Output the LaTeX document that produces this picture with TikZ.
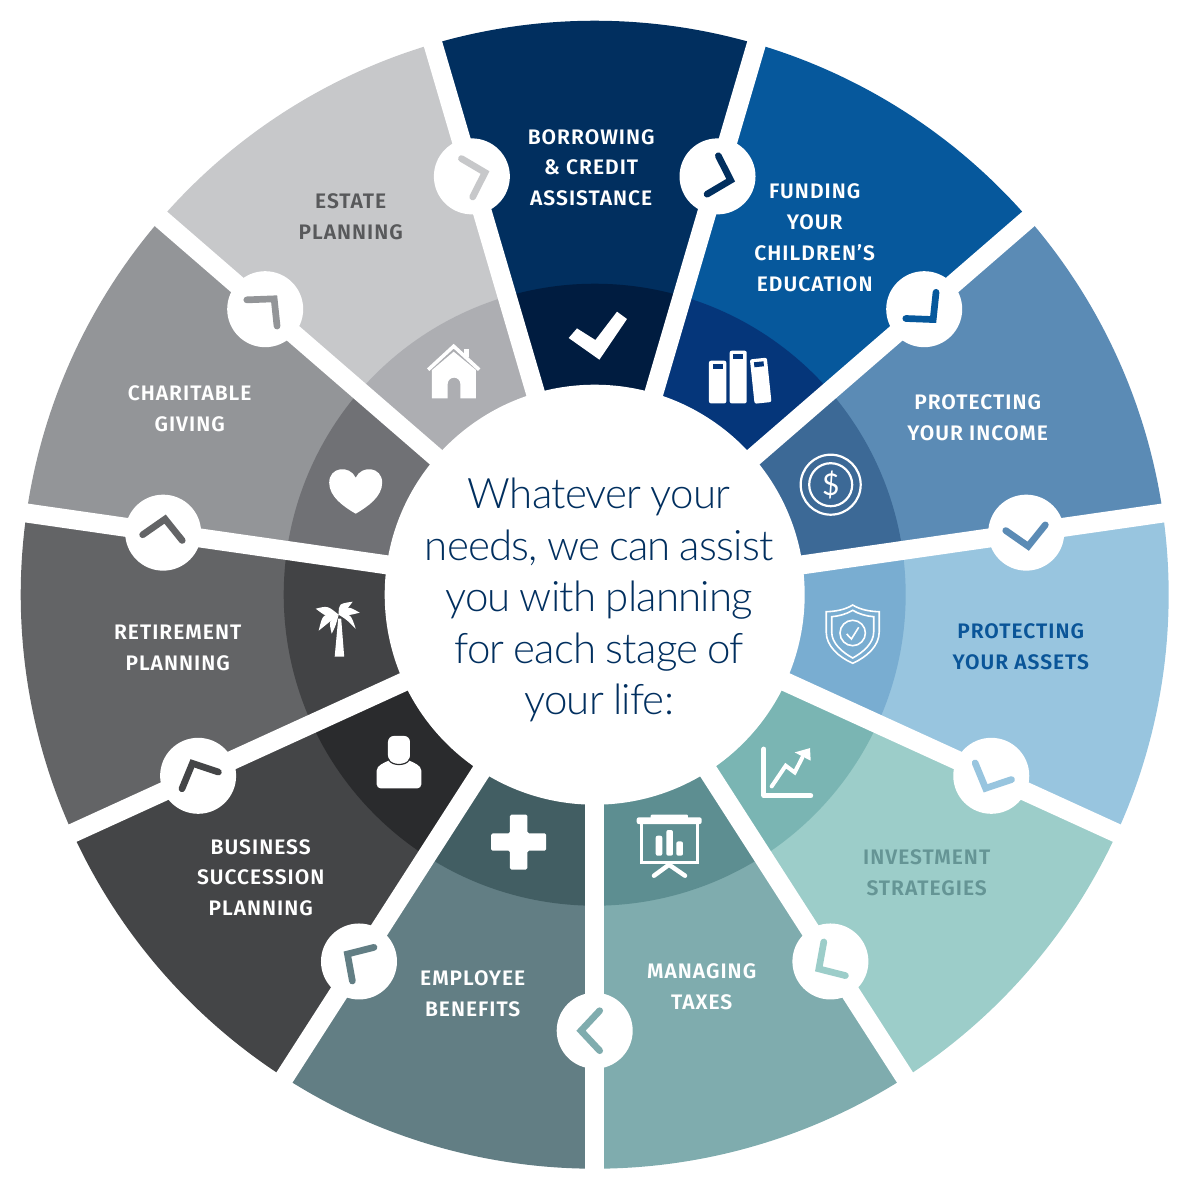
\documentclass[tikz,border=0pt]{standalone}
\usepackage{fontspec}
\usepackage{tikz}
\usetikzlibrary{positioning}
\newfontfamily\labelfont[LetterSpace=4.8]{Fira Sans SemiBold}
\newfontfamily\hubfont[LetterSpace=-1.8,WordSpace=0.85]{Lato Light}
\newfontfamily\dollarfont{Lato}

\definecolor{employeeout}{HTML}{627E84}\definecolor{employeein}{HTML}{425E63}
\definecolor{businessout}{HTML}{444547}\definecolor{businessin}{HTML}{2A2B2D}
\definecolor{retireout}{HTML}{636466}\definecolor{retirein}{HTML}{424345}
\definecolor{charityout}{HTML}{939598}\definecolor{charityin}{HTML}{707175}
\definecolor{estateout}{HTML}{C7C8CA}\definecolor{estatein}{HTML}{ADAEB2}
\definecolor{borrowout}{HTML}{012F5F}\definecolor{borrowin}{HTML}{001C40}
\definecolor{fundout}{HTML}{06589C}\definecolor{fundin}{HTML}{05367A}
\definecolor{incomeout}{HTML}{5B8BB5}\definecolor{incomein}{HTML}{3C6996}
\definecolor{assetout}{HTML}{98C5DF}\definecolor{assetin}{HTML}{79ADD1}
\definecolor{investout}{HTML}{9CCDC9}\definecolor{investin}{HTML}{7AB5B3}
\definecolor{taxout}{HTML}{7FACAE}\definecolor{taxin}{HTML}{5D8E91}
\definecolor{assettext}{HTML}{0A5598}
\definecolor{investtext}{HTML}{659595}
\definecolor{estatetext}{HTML}{58595B}

\def\seglist{employeeout/employeein,businessout/businessin,retireout/retirein,
  charityout/charityin,estateout/estatein,borrowout/borrowin,fundout/fundin,
  incomeout/incomein,assetout/assetin,investout/investin,taxout/taxin}

\begin{document}
\begin{tikzpicture}[
  x=1pt, y=1pt,
  seglabel/.style={font=\labelfont\fontsize{21}{30.7}\selectfont, align=center, text=white, inner sep=0pt},
  hubtext/.style={font=\hubfont\fontsize{42}{51.6}\selectfont, align=center, text=borrowout, inner sep=0pt},
  spoke/.style={draw=white, line width=19pt},
  handle/.style={circle, fill=white, minimum size=76pt, inner sep=0pt},
  chevron/.style={line width=6.7pt, line cap=round, miter limit=10}
]
\useasboundingbox (-594.7,-605.3) rectangle (605.3,594.7);

\foreach \outcol/\incol [count=\k from 0] in \seglist {
  \pgfmathsetmacro{\a}{270-\k*360/11}
  \pgfmathsetmacro{\b}{270-(\k+1)*360/11}
  \fill[\outcol] (0,0) -- (\a:574pt) arc[start angle=\a, end angle=\b, radius=574pt] -- cycle;
  \fill[\incol] (0,0) -- (\a:311pt) arc[start angle=\a, end angle=\b, radius=311pt] -- cycle;
}

\coordinate (hub) at (0,0);
\foreach \k in {0,...,10} {
  \pgfmathsetmacro{\a}{270-\k*360/11}
  \coordinate (rim\k) at (\a:590pt);
  \draw[spoke] (hub) -- (rim\k);
}
\node[circle, fill=white, minimum size=420pt, inner sep=0pt] (centre) at (hub) {};

\foreach \outcol/\incol [count=\k from 1] in \seglist {
  \pgfmathsetmacro{\b}{270-\k*360/11}
  \node[handle] (handle\k) at (\b:436pt) {};
  \begin{scope}[shift={(\b:436pt)}, rotate=\b-270]
    \draw[chevron, \outcol] (5,20) -- (-13.7,0) -- (5,-20);
  \end{scope}
}

\node[hubtext] (whatever) at (4.5,-5.5) {Whatever your\\needs, we can assist\\you with planning\\for each stage of\\your life:};

\node[seglabel] (borrowing) at (-3.5,427) {BORROWING\\\& CREDIT\\ASSISTANCE};
\node[seglabel] (funding) at (220,357) {FUNDING\\YOUR\\CHILDREN’S\\EDUCATION};
\node[seglabel] (income) at (383,177) {PROTECTING\\YOUR INCOME};
\node[seglabel, text=assettext] (assets) at (426,-52) {PROTECTING\\YOUR ASSETS};
\node[seglabel, text=investtext] (invest) at (332,-278) {INVESTMENT\\STRATEGIES};
\node[seglabel] (taxes) at (107,-392) {MANAGING\\TAXES};
\node[seglabel] (employee) at (-122,-399) {EMPLOYEE\\BENEFITS};
\node[seglabel] (business) at (-334,-283) {BUSINESS\\SUCCESSION\\PLANNING};
\node[seglabel] (retirement) at (-417,-53) {RETIREMENT\\PLANNING};
\node[seglabel] (charitable) at (-405,186) {CHARITABLE\\GIVING};
\node[seglabel, text=estatetext] (estate) at (-244,378) {ESTATE\\PLANNING};

% icons
\fill[white, shift={(3,259)}] (-29,-2.3) -- (-20.7,7.3) -- (-2.3,-4.3) -- (19.3,24) -- (29.3,16.7) -- (1.7,-24) -- cycle;

\begin{scope}[shift={(-141,224)}]
  \fill[white] (-21.7,0.7) -- (0,19) -- (22.3,0.7) -- (22.3,-27.7) -- (6.7,-27.7) -- (6.7,-13.3)
    arc[start angle=0, end angle=180, radius=6.35pt] -- (-6,-27.7) -- (-21.7,-27.7) -- cycle;
  \fill[white] (10.7,14) rectangle (15.7,21.7);
  \draw[white, line width=3.5pt] (-25.5,1) -- (0,24.5) -- (25.5,1);
\end{scope}

\begin{scope}[shift={(145.3,217.3)}]
  \fill[white, rounded corners=2pt] (-31,16.7) rectangle (-13.7,-26);
  \fill[fundin] (-27,13.3) rectangle (-17.3,8.3);
  \fill[white, rounded corners=2pt] (-10.3,26.7) rectangle (6.7,-26);
  \fill[fundin] (-6.7,23.3) rectangle (3,18.3);
  \begin{scope}[shift={(20.7,-3.3)}, rotate=6]
    \fill[white, rounded corners=2pt] (-8.5,22.3) rectangle (8.5,-22.3);
    \fill[fundin] (-4.8,19) rectangle (4.8,14);
  \end{scope}
\end{scope}

\begin{scope}[shift={(236,110)}, white]
  \draw[line width=2.2pt] (0,0) circle[radius=30pt];
  \draw[line width=2.2pt] (0,0) circle[radius=21.5pt];
  \node[font=\dollarfont\fontsize{30}{30}\selectfont, text=white, inner sep=0pt] (dollar) at (0,0) {\$};
\end{scope}

\begin{scope}[shift={(258,-39.3)}, white, line width=1.6pt]
  \draw (0,29) .. controls (-8,24) and (-18,22.5) .. (-26.5,22.3) -- (-26.5,2) .. controls (-26.5,-12) and (-14,-23) .. (0,-29.3)
    .. controls (14,-23) and (26.5,-12) .. (26.5,2) -- (26.5,22.3) .. controls (18,22.5) and (8,24) .. cycle;
  \draw (0,23.7) .. controls (-6,20) and (-14,17.8) .. (-21,17.3) -- (-21,2) .. controls (-21,-9) and (-11,-18) .. (0,-24)
    .. controls (11,-18) and (21,-9) .. (21,2) -- (21,17.3) .. controls (14,17.8) and (6,20) .. cycle;
  \draw (0,1) circle[radius=12.7pt];
  \draw (-6,0) -- (-1.3,-5) -- (6,6.7);
\end{scope}

\begin{scope}[shift={(191,-177.7)}, white, line cap=round]
  \draw[line width=5pt, line join=round] (-21.7,23.3) -- (-21.7,-23.3) -- (25,-23.3);
  \draw[line width=4pt] (-14,-14) -- (0,6.7) -- (9,0) -- (16.7,15);
  \fill (9,20) -- (24.3,24.3) -- (25,11.7) -- cycle;
\end{scope}

\begin{scope}[shift={(74.3,-251)}, white]
  \fill[rounded corners=2pt] (-32.3,28.3) rectangle (32.7,21.7);
  \fill[rounded corners=1pt] (-18.3,31) rectangle (19,27);
  \draw[line width=2.7pt] (-27.3,23) -- (-27.3,-16.7) -- (28.3,-16.7) -- (28.3,23);
  \fill[rounded corners=2pt] (-13.3,10) rectangle (-6.7,-10);
  \fill[rounded corners=2pt] (-2.7,15.7) rectangle (4,-10);
  \fill[rounded corners=2pt] (7.3,4.3) rectangle (14,-10);
  \draw[line width=4.5pt, line cap=round] (-15,-30) -- (0,-19) -- (16,-30);
\end{scope}

\fill[white, rounded corners=1.5pt, shift={(-76,-247.3)}] (-8.7,27.5) -- (8.7,27.5) -- (8.7,8.7) -- (27.5,8.7) -- (27.5,-8.7)
  -- (8.7,-8.7) -- (8.7,-27.5) -- (-8.7,-27.5) -- (-8.7,-8.7) -- (-27.5,-8.7) -- (-27.5,8.7) -- (-8.7,8.7) -- cycle;

\begin{scope}[shift={(-195.7,-167.7)}]
  \fill[white, rounded corners=4pt] (-22.3,-26) -- (-22.3,-12) .. controls (-22.3,-3) and (-14,0) .. (-8,3)
    -- (8,3) .. controls (14,0) and (22.3,-3) .. (22.3,-12) -- (22.3,-26) -- cycle;
  \fill[white, rounded corners=6pt] (-11,1) rectangle (11,26.5);
  \draw[businessin, line width=1.2pt] (-10,2) .. controls (-6,-3.5) and (6,-3.5) .. (10,2);
\end{scope}

\begin{scope}[shift={(-257,-34)}, white]
  \fill (-3,-28) -- (6.5,-28) -- (3.5,10) -- (0.5,10) -- cycle;
  \fill (1,14) .. controls (-10,23) .. (-22,20) .. controls (-10,11) .. cycle;
  \fill (1,14) .. controls (-15,15) .. (-19,-2) .. controls (-8,7) .. cycle;
  \fill (1,14) .. controls (-9,8) .. (-6,-5) .. controls (-2,3) .. cycle;
  \fill (1,14) .. controls (1,25) .. (15,27) .. controls (9,19) .. cycle;
  \fill (1,14) .. controls (10,23) .. (22,16) .. controls (10,13) .. cycle;
  \fill (1,14) .. controls (13,15) .. (18,0) .. controls (9,9) .. cycle;
\end{scope}

\fill[white, shift={(-239,104)}] (0,-23) .. controls (-12,-16) and (-26.5,-6) .. (-26.5,8) .. controls (-26.5,24) and (-6,26) .. (0,13)
  .. controls (6,26) and (26.5,24) .. (26.5,8) .. controls (26.5,-6) and (12,-16) .. cycle;

\end{tikzpicture}
\end{document}
